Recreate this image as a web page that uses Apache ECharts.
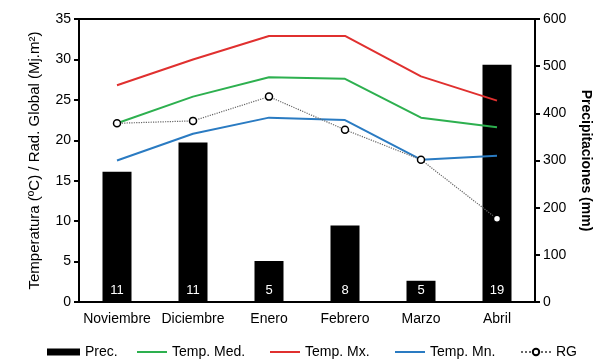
<!DOCTYPE html>
<html><head><meta charset="utf-8">
<script src="https://cdn.jsdelivr.net/npm/echarts@6/dist/echarts.min.js"></script>
<style>html,body{margin:0;padding:0;background:#fff}#c{width:599px;height:359px}</style>
</head><body><div id="c"></div>
<script>
const months = ['Noviembre','Diciembre','Enero','Febrero','Marzo','Abril'];
const prec = [276, 338, 87, 162, 45, 503];
const rainDays = [11, 11, 5, 8, 5, 19];
const tempMed = [22.1, 25.4, 27.8, 27.6, 22.8, 21.6];
const tempMx = [26.8, 30.0, 32.9, 32.9, 27.9, 24.9];
const tempMn = [17.5, 20.8, 22.8, 22.5, 17.6, 18.1];
const rg = [22.1, 22.4, 25.4, 21.3, 17.6, 10.3];

const F = 'Liberation Sans, Arial, sans-serif';
const C_MED = '#2db04f', C_MX = '#e0302f', C_MN = '#2a7bc2';
const lineIcon = 'path://M0,0H30V2H0Z';
function lg(name, left, extra) {
  return Object.assign({
    top: 345, left: left, padding: 0, data: [name], itemWidth: 30, itemHeight: 2, itemGap: 0,
    icon: lineIcon, textStyle: {fontSize: 14, color: '#000', fontFamily: F}
  }, extra || {});
}
const chart = echarts.init(document.getElementById('c'));
chart.setOption({
  animation: false,
  textStyle: {fontFamily: F},
  grid: {left: 79, right: 64, top: 19, bottom: 57, show: true, borderColor: '#000', borderWidth: 2, outerBoundsMode: 'none', containLabel: false},
  legend: [
    lg('Prec.', 47, {icon: 'rect', itemWidth: 33, itemHeight: 7}),
    lg('Temp. Med.', 137),
    lg('Temp. Mx.', 270),
    lg('Temp. Mn.', 395),
    lg('RG', 520, {icon: null, itemWidth: 30, itemHeight: 8})
  ],
  xAxis: {
    type: 'category', data: months,
    axisLine: {lineStyle: {color: '#000', width: 2}},
    axisTick: {lineStyle: {color: '#000', width: 2}, length: 5},
    axisLabel: {color: '#000', fontSize: 14, margin: 10, interval: 0}
  },
  yAxis: [
    {
      type: 'value', min: 0, max: 35, interval: 5,
      name: 'Temperatura (ºC) / Rad. Global (Mj.m²)', nameLocation: 'middle', nameGap: 37,
      nameTextStyle: {fontSize: 15, color: '#000'},
      axisLine: {show: true, lineStyle: {color: '#000', width: 2}},
      axisTick: {show: true, lineStyle: {color: '#000', width: 2}, length: 5},
      axisLabel: {color: '#000', fontSize: 14, margin: 8},
      splitLine: {show: false}
    },
    {
      type: 'value', min: 0, max: 600, interval: 100, position: 'right',
      name: 'Precipitaciones (mm)', nameLocation: 'middle', nameGap: 44, nameRotate: -90,
      nameTextStyle: {fontSize: 14, color: '#000', fontWeight: 'bold'},
      axisLine: {show: true, lineStyle: {color: '#000', width: 2}},
      axisTick: {show: true, lineStyle: {color: '#000', width: 2}, length: 5},
      axisLabel: {color: '#000', fontSize: 14, margin: 8},
      splitLine: {show: false}
    }
  ],
  series: [
    {
      name: 'Prec.', type: 'bar', yAxisIndex: 1, barWidth: 29,
      itemStyle: {color: '#000'},
      data: prec.map((v, i) => ({value: v, label: {formatter: String(rainDays[i])}})),
      label: {show: true, position: 'insideBottom', color: '#fff', fontSize: 13, distance: 5},
      z: 1
    },
    {name: 'Temp. Med.', type: 'line', data: tempMed, symbol: 'none', lineStyle: {color: C_MED, width: 2}, itemStyle: {color: C_MED}, z: 3},
    {name: 'Temp. Mx.', type: 'line', data: tempMx, symbol: 'none', lineStyle: {color: C_MX, width: 2}, itemStyle: {color: C_MX}, z: 3},
    {name: 'Temp. Mn.', type: 'line', data: tempMn, symbol: 'none', lineStyle: {color: C_MN, width: 2}, itemStyle: {color: C_MN}, z: 3},
    {name: 'RG', type: 'line', data: rg, symbol: 'circle', symbolSize: 7,
      lineStyle: {color: '#666', width: 1.2, type: 'dotted'},
      itemStyle: {color: '#fff', borderColor: '#000', borderWidth: 1.5}, z: 4}
  ]
});
</script></body></html>
